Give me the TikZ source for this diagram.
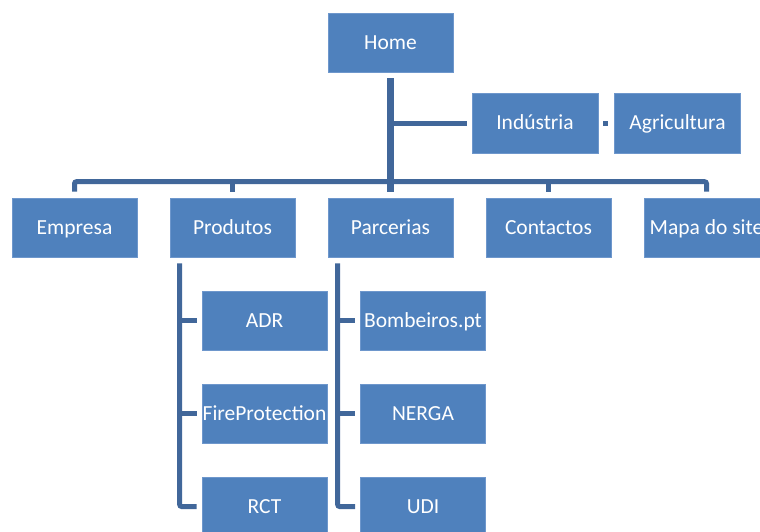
\documentclass[tikz,border=0pt]{standalone}
\usepackage{fontspec}
\setmainfont{Carlito}
\usetikzlibrary{calc}
\definecolor{boxblue}{HTML}{4F81BD}
\definecolor{boxedge}{HTML}{6E97CC}
\definecolor{connblue}{HTML}{41679A}
\begin{document}
\begin{tikzpicture}[x=1pt,y=-1pt,
  box/.style={rectangle, fill=boxblue, draw=boxedge, line width=0.6pt,
    minimum width=125pt, minimum height=59pt, inner sep=0pt,
    text height=14pt, text depth=1pt,
    text=white, font=\fontsize{21.5}{24}\selectfont},
  conn/.style={draw=connblue, line width=5pt},
  connr/.style={conn, rounded corners=2pt}]
\useasboundingbox (0,0) rectangle (760,531);
\clip (0,0) rectangle (760,531);
\fill[white] (0,0) rectangle (760,531);
% nodes
\node[box] (home) at (390.5,42.5) {Home};
\node[box, minimum width=126pt, minimum height=60pt] (industria) at (535,123) {Indústria};
\node[box, minimum width=126pt, minimum height=60pt] (agricultura) at (677.5,123) {Agricultura};
\node[box] (empresa) at (74.5,227.5) {Empresa};
\node[box] (produtos) at (232.5,227.5) {Produtos};
\node[box] (parcerias) at (390.5,227.5) {Parcerias};
\node[box] (contactos) at (548.5,227.5) {Contactos};
\node[box] (mapa) at (706.5,227.5) {Mapa do site};
\node[box] (adr) at (264.5,320.5) {ADR};
\node[box] (fire) at (264.5,413.5) {FireProtection};
\node[box] (rct) at (264.5,506.5) {RCT};
\node[box] (bomb) at (423,320.5) {Bombeiros.pt};
\node[box] (nerga) at (423,413.5) {NERGA};
\node[box] (udi) at (423,506.5) {UDI};
% connectors: level 1 bar
\draw[connr] ([yshift=6pt]empresa.north) -- ++(0,-10) -| ([yshift=6pt]mapa.north);
\draw[conn] ([yshift=6pt]produtos.north) -- ++(0,-10);
\draw[conn] ([yshift=6pt]contactos.north) -- ++(0,-10);
% trunk
\draw[conn, line width=7pt] ([yshift=-6pt]home.south) -- ([yshift=6pt]parcerias.north);
% assistant
\draw[conn] (home.south |- industria.west) -- ([xshift=-5pt]industria.west);
\draw[conn] ([xshift=5pt]industria.east) -- ([xshift=-6pt]agricultura.west);
% Produtos children
\coordinate (pv) at ([xshift=10pt,yshift=-6pt]produtos.south west);
\draw[connr] (pv) |- ([xshift=-5pt]rct.west);
\draw[conn] (pv |- adr.west) -- ([xshift=-5pt]adr.west);
\draw[conn] (pv |- fire.west) -- ([xshift=-5pt]fire.west);
% Parcerias children
\coordinate (qv) at ([xshift=10pt,yshift=-6pt]parcerias.south west);
\draw[connr] (qv) |- ([xshift=-5pt]udi.west);
\draw[conn] (qv |- bomb.west) -- ([xshift=-5pt]bomb.west);
\draw[conn] (qv |- nerga.west) -- ([xshift=-5pt]nerga.west);
\end{tikzpicture}
\end{document}
